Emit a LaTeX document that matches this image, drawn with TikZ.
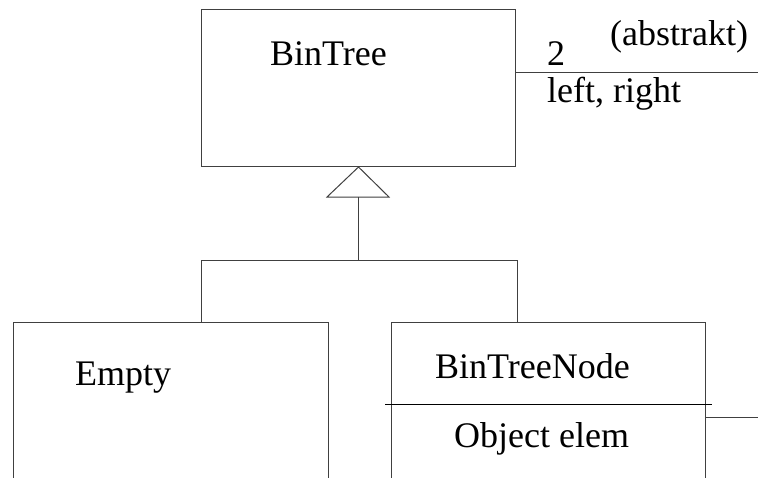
\documentclass[tikz,border=0pt]{standalone}
\usepackage{fontspec}
\setmainfont{Liberation Serif}
\begin{document}
\begin{tikzpicture}[x=1pt,y=-1pt,
  ln/.style={draw=black!75,line width=1pt},
  cls/.style={ln,rectangle,inner sep=0pt,anchor=north west},
  lbl/.style={anchor=base west,inner sep=0pt,font=\fontsize{36}{40}\selectfont}]
\useasboundingbox (0,0) rectangle (758,477);
\clip (0,0) rectangle (758,477);
% classes
\node[cls,minimum width=314pt,minimum height=157pt] (bt) at (201,9) {};
\node[cls,minimum width=315pt,minimum height=200pt] (empty) at (13,322) {};
\node[cls,minimum width=314pt,minimum height=200pt] (btn) at (391,322) {};
% labels
\node[lbl] (tbt) at (270,65) {BinTree};
\node[lbl] (two) at (547,65) {2};
\node[lbl] (abs) at (610,45) {(abstrakt)};
\node[lbl] (lr) at (547,102) {left, right};
\node[lbl] (tem) at (75,385) {Empty};
\node[lbl] (tbtn) at (435,378) {BinTreeNode};
\node[lbl] (tobj) at (454,447) {Object elem};
% divider in BinTreeNode
\coordinate (dl) at (385,404);
\coordinate (dr) at (712,404);
\draw[line width=1pt,black] (dl) -- (dr);
% association lines
\coordinate (assocEnd) at (758,72);
\draw[ln] (bt.east |- assocEnd) -- (assocEnd);
\coordinate (assoc2End) at (758,417);
\draw[ln] (btn.east |- assoc2End) -- (assoc2End);
% generalization
\coordinate (tl) at (327,197);
\coordinate (tr) at (389,197);
\coordinate (tb) at (358,197);
\coordinate (bar) at (358,260);
\coordinate (eTop) at (201,322);
\coordinate (nTop) at (517,322);
\draw[ln,fill=white] (bt.south) -- (tl) -- (tr) -- cycle;
\draw[ln] (tb) -- (bar);
\draw[ln] (eTop) -- (eTop |- bar) -- (nTop |- bar) -- (nTop);
\end{tikzpicture}
\end{document}
